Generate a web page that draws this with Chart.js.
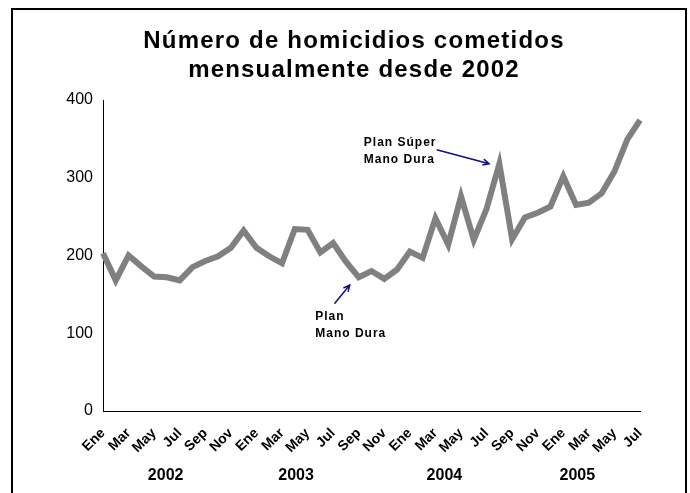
<!DOCTYPE html>
<html>
<head>
<meta charset="utf-8">
<script src="https://cdn.jsdelivr.net/npm/chart.js@4.4.0/dist/chart.umd.min.js"></script>
<style>
  html, body { margin: 0; padding: 0; background: #fff; }
  #wrap { width: 690px; height: 493px; position: relative; }
</style>
</head>
<body>
<div id="wrap"><canvas id="chart" width="690" height="493"></canvas></div>
<script>
const FONT = '"Liberation Sans", Arial, sans-serif';

// ── Data ──────────────────────────────────────────────────────────────────────

const MONTHS = ['Ene','Feb','Mar','Abr','May','Jun','Jul','Ago','Sep','Oct','Nov','Dic'];
const YEARS = ['2002', '2003', '2004', '2005'];
const YEAR_POS = [4.9, 15.1, 26.7, 37.1];   // category index each year label sits under
const HOMICIDES = [
  203, 168, 200, 186, 173, 172, 168, 185, 193, 199, 210, 232,   // 2002
  210, 199, 190, 234, 233, 204, 216, 192, 172, 180, 170, 182,   // 2003
  205, 197, 248, 214, 276, 220, 260, 318, 221, 249, 255, 263,   // 2004
  302, 265, 268, 280, 308, 349, 374,                            // 2005 (Ene–Jul)
];
const Y_TICKS = [0, 100, 200, 300, 400];
const TITLE = ['Número de homicidios cometidos', 'mensualmente desde 2002'];

// annotations: text anchor + arrow, all in (category index, value)
const NOTES = [
  { lines: ['Plan Súper', 'Mano Dura'], at: [20.4, 341], from: [26.1, 336], to: [30.2, 318] },
  { lines: ['Plan', 'Mano Dura'],       at: [16.6, 117], from: [18.1, 138], to: [19.3, 162] },
];

const LABELS = YEARS.flatMap(() => MONTHS).slice(0, HOMICIDES.length);

// ── Decorations: frame, title, year row, annotations ─────────────────────────

const decor = {
  id: 'decor',
  beforeDraw(chart) {
    const ctx = chart.ctx;
    ctx.save();
    ctx.fillStyle = '#fff';
    ctx.fillRect(0, 0, chart.width, chart.height);
    ctx.restore();
  },
  afterDraw(chart) {
    const ctx = chart.ctx;
    const { x, y } = chart.scales;
    ctx.save();

    // frame
    ctx.strokeStyle = '#000';
    ctx.lineWidth = 2;
    ctx.strokeRect(12, 9, 674, 520);

    // title
    ctx.fillStyle = '#000';
    ctx.textAlign = 'center';
    ctx.textBaseline = 'alphabetic';
    ctx.font = `bold 24px ${FONT}`;
    ctx.letterSpacing = '1.2px';
    ctx.fillText(TITLE[0], 354, 48);
    ctx.fillText(TITLE[1], 354, 77);

    // year row
    ctx.letterSpacing = '0px';
    ctx.font = `bold 16px ${FONT}`;
    YEARS.forEach((yr, i) => ctx.fillText(yr, x.getPixelForValue(YEAR_POS[i]), 480));

    // annotations
    ctx.textAlign = 'left';
    ctx.font = `bold 12px ${FONT}`;
    ctx.letterSpacing = '1px';
    NOTES.forEach(n => {
      const tx = x.getPixelForValue(n.at[0]), ty = y.getPixelForValue(n.at[1]);
      n.lines.forEach((l, i) => ctx.fillText(l, tx, ty + i * 17));

      const x0 = x.getPixelForValue(n.from[0]), y0 = y.getPixelForValue(n.from[1]);
      const x1 = x.getPixelForValue(n.to[0]),   y1 = y.getPixelForValue(n.to[1]);
      const a = Math.atan2(y1 - y0, x1 - x0);
      ctx.strokeStyle = '#10107f';
      ctx.lineWidth = 1.5;
      ctx.beginPath();
      ctx.moveTo(x0, y0);
      ctx.lineTo(x1, y1);
      ctx.moveTo(x1 - 7 * Math.cos(a - 0.45), y1 - 7 * Math.sin(a - 0.45));
      ctx.lineTo(x1, y1);
      ctx.lineTo(x1 - 7 * Math.cos(a + 0.45), y1 - 7 * Math.sin(a + 0.45));
      ctx.stroke();
    });
    ctx.restore();
  },
};

// ── Chart ─────────────────────────────────────────────────────────────────────

new Chart(document.getElementById('chart'), {
  type: 'line',
  data: {
    labels: LABELS,
    datasets: [{
      data: HOMICIDES,
      borderColor: '#808080',
      borderWidth: 6,
      borderJoinStyle: 'miter',
      pointRadius: 0,
      tension: 0,
      fill: false,
    }],
  },
  options: {
    responsive: false,
    animation: false,
    devicePixelRatio: 1,
    layout: { padding: { left: 20, right: 50, top: 100, bottom: 0 } },
    plugins: { legend: { display: false }, tooltip: { enabled: false }, title: { display: false } },
    scales: {
      x: {
        offset: false,
        grid: { display: false, drawTicks: false },
        border: { display: true, color: '#000', width: 1 },
        afterFit: axis => { axis.height = 82; },
        ticks: {
          autoSkip: false,
          minRotation: 45,
          maxRotation: 45,
          padding: 14,
          labelOffset: 0,
          color: '#000',
          font: { family: FONT, size: 14, weight: 'bold' },
          callback: (v, i) => (i % 2 === 0 ? LABELS[i] : ''),
        },
      },
      y: {
        min: Y_TICKS[0],
        max: Y_TICKS[Y_TICKS.length - 1],
        grid: { display: false, drawTicks: false },
        border: { display: true, color: '#000', width: 1 },
        afterFit: axis => { axis.width = 83; },
        afterBuildTicks: axis => { axis.ticks = Y_TICKS.map(v => ({ value: v })); },
        ticks: {
          padding: 10,
          color: '#000',
          font: { family: FONT, size: 16 },
        },
      },
    },
  },
  plugins: [decor],
});
</script>
</body>
</html>
